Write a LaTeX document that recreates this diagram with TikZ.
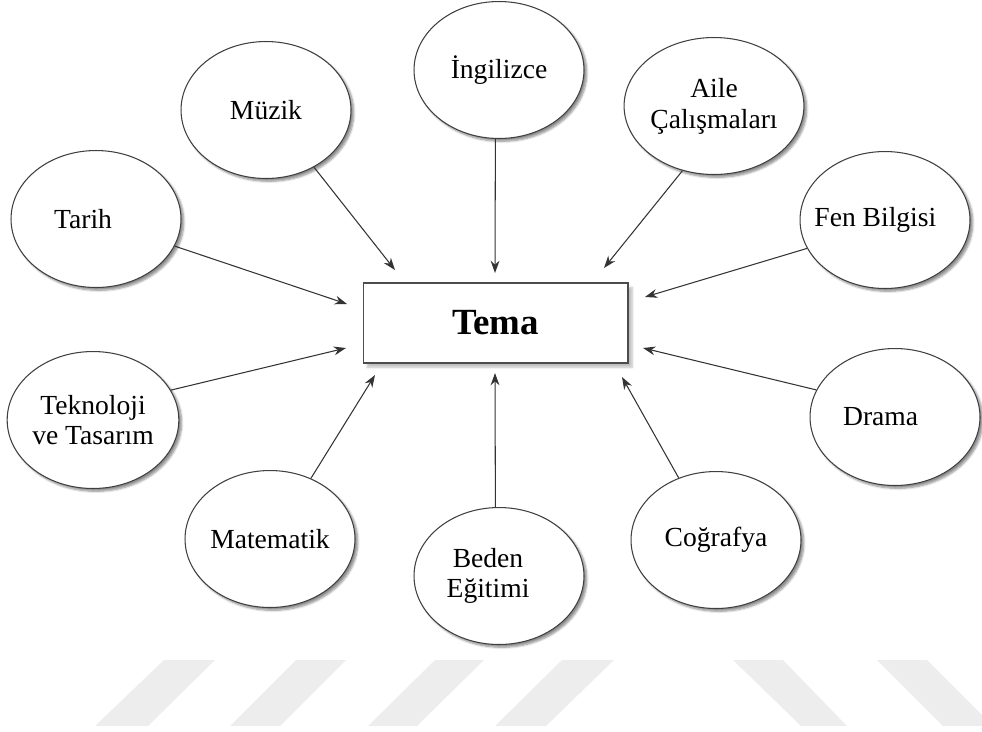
\documentclass[tikz,border=0pt]{standalone}
\usepackage{fontspec}
\setmainfont{Liberation Serif}
\usetikzlibrary{shapes.geometric,arrows.meta,shadows.blur}

\begin{document}
\begin{tikzpicture}[x=0.02cm,y=-0.02cm,
  topic/.style={ellipse, draw=black!75, line width=0.6pt, fill=white,
    minimum width=3.4cm, minimum height=2.74cm, inner sep=0pt, align=center,
    font=\fontsize{15.7}{17.5}\selectfont,
    blur shadow={shadow xshift=1.6pt, shadow yshift=-1.6pt,
      shadow blur steps=6, shadow blur radius=1.2pt, shadow opacity=45}},
  themebox/.style={rectangle, draw=black!70, line width=0.6pt, fill=white,
    minimum width=5.3cm, minimum height=1.6cm, inner sep=0pt,
    font=\fontsize{21}{24}\selectfont\bfseries,
    blur shadow={shadow xshift=2.4pt, shadow yshift=-2.4pt,
      shadow blur steps=6, shadow blur radius=1.2pt, shadow opacity=25}},
  conn/.style={draw=black!80, line width=0.6pt, -{Stealth[length=7pt,width=5pt]}},
  stripe/.style={fill=black!7, draw=none}]

\useasboundingbox (0,0) rectangle (982,731);

% faint stripes along the bottom edge
\begin{scope}
  \clip (0,0) rectangle (982,731);
  \fill[stripe] (164,660) -- (215,660) -- (148,726) -- (95,726) -- cycle;
  \fill[stripe] (296,660) -- (346,660) -- (280,726) -- (230,726) -- cycle;
  \fill[stripe] (435,660) -- (484,660) -- (417,726) -- (368,726) -- cycle;
  \fill[stripe] (562,660) -- (614,660) -- (546,726) -- (495,726) -- cycle;
  \fill[stripe] (733,660) -- (783,660) -- (847,726) -- (801,726) -- cycle;
  \fill[stripe] (877,660) -- (927,660) -- (993,726) -- (943,726) -- cycle;
\end{scope}

% central theme
\node[themebox] (tema) at (495.5,323) {Tema};

% subject areas
\node[topic] (ingilizce) at (499,70)  {İngilizce};
\node[topic] (muzik)     at (266,110) {Müzik};
\node[topic] (aile)      at (714,106) {Aile\\Çalışmaları};
\node[topic] (tarih)     at (96,219)  {\hspace*{-14.7pt}Tarih};
\node[topic] (fen)       at (885,220) {\hspace*{-11pt}Fen Bilgisi};
\node[topic] (tekno)     at (93,420)  {Teknoloji\\ve Tasarım};
\node[topic] (drama)     at (895,417) {\hspace*{-16.4pt}Drama};
\node[topic] (matematik) at (270,539) {Matematik};
\node[topic] (beden)     at (499,576) {\hspace*{-12.5pt}Beden\\\hspace*{-12.5pt}Eğitimi};
\node[topic] (cografya)  at (716,540) {Coğrafya};

% arrow tips, just short of the theme box
\coordinate (t-tarih)     at (347,304);
\coordinate (t-muzik)     at (395,270);
\coordinate (t-ingilizce) at (495,273);
\coordinate (t-aile)      at (604,268);
\coordinate (t-fen)       at (645,297);
\coordinate (t-tekno)     at (346,348);
\coordinate (t-drama)     at (643,348);
\coordinate (t-matematik) at (375,375);
\coordinate (t-beden)     at (495,373);
\coordinate (t-cografya)  at (622,377);

% connectors
\draw[conn] (tarih.-19)      -- (t-tarih);
\draw[conn] (muzik.-50)      -- (t-muzik);
\draw[conn] (ingilizce.-93)  -- (t-ingilizce);
\draw[conn] (aile.-116)      -- (t-aile);
\draw[conn] (fen.200)        -- (t-fen);
\draw[conn] (tekno.21)       -- (t-tekno);
\draw[conn] (drama.161)      -- (t-drama);
\draw[conn] (matematik.56)   -- (t-matematik);
\draw[conn] (beden.93)       -- (t-beden);
\draw[conn] (cografya.121.5) -- (t-cografya);
\end{tikzpicture}
\end{document}
